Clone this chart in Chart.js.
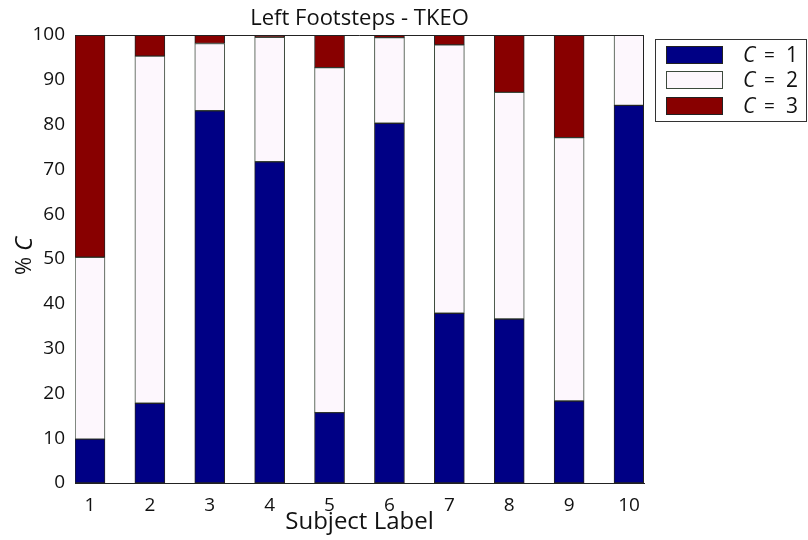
<!DOCTYPE html>
<html>
<head>
<meta charset="utf-8">
<script src="https://cdn.jsdelivr.net/npm/chart.js@4/dist/chart.umd.min.js"></script>
<style>
  html, body { margin: 0; padding: 0; background: #fff; }
  #wrap { width: 808px; height: 540px; }
</style>
</head>
<body>
<div id="wrap"><canvas id="myChart" width="808" height="540"></canvas></div>
<script>
//Chart values.
const subjects = [1, 2, 3, 4, 5, 6, 7, 8, 9, 10];
const c1Values = [9.8, 17.8, 83.1, 71.7, 15.7, 80.3, 37.9, 36.6, 18.3, 84.3];
const c2Values = [40.6, 77.5, 15.0, 27.8, 77.0, 19.1, 59.9, 50.6, 58.8, 15.7];
const c3Values = [49.6, 4.7, 1.9, 0.5, 7.3, 0.6, 2.2, 12.8, 22.9, 0];
const yTicks = [0, 10, 20, 30, 40, 50, 60, 70, 80, 90, 100];
const legendNumbers = ["1", "2", "3"];
const chartTitle = "Left Footsteps - TKEO";

const FONT = "'Open Sans', 'DejaVu Sans', sans-serif";

function toPoints(values) {
  return subjects.map((s, i) => ({ x: s, y: values[i] }));
}

//Draws the title over the plot, the box edges, the y title with an italic C, and the boxed legend.
const extras = {
  id: "extras",
  afterDraw(chart) {
    const ctx = chart.ctx;
    const a = chart.chartArea;
    ctx.save();

    //Title, centred over the plot box.
    ctx.fillStyle = "#111";
    ctx.textAlign = "center";
    ctx.textBaseline = "middle";
    ctx.font = "22px " + FONT;
    ctx.fillText(chartTitle, (a.left + a.right) / 2, 19);

    //Top and right edges of the plot box.
    ctx.strokeStyle = "#222";
    ctx.lineWidth = 1;
    ctx.beginPath();
    ctx.moveTo(a.left, a.top + 0.5);
    ctx.lineTo(a.right - 0.5, a.top + 0.5);
    ctx.lineTo(a.right - 0.5, a.bottom);
    ctx.stroke();

    //Y axis title "% C".
    ctx.translate(25, 256);
    ctx.rotate(-Math.PI / 2);
    ctx.textAlign = "left";
    ctx.font = "22px " + FONT;
    const pct = "% ";
    const w1 = ctx.measureText(pct).width;
    ctx.font = "italic 24px " + FONT;
    const w2 = ctx.measureText("C").width;
    let x0 = -(w1 + w2) / 2;
    ctx.font = "22px " + FONT;
    ctx.fillText(pct, x0, 0);
    ctx.font = "italic 24px " + FONT;
    ctx.fillText("C", x0 + w1, 0);
    ctx.setTransform(1, 0, 0, 1, 0, 0);

    //Legend box.
    ctx.strokeStyle = "#333";
    ctx.strokeRect(655.5, 39.5, 151, 82);
    const rows = [55, 80, 106];
    chart.data.datasets.forEach((ds, i) => {
      const cy = rows[i];
      ctx.fillStyle = ds.backgroundColor;
      ctx.fillRect(666, cy - 9, 57, 18);
      ctx.strokeStyle = ds.borderColor;
      ctx.strokeRect(666.5, cy - 8.5, 56, 17);
      ctx.fillStyle = "#111";
      ctx.textBaseline = "middle";
      ctx.textAlign = "left";
      ctx.font = "italic 21px " + FONT;
      ctx.fillText("C", 743, cy + 1);
      ctx.font = "19px " + FONT;
      ctx.fillText("=", 764, cy + 1);
      ctx.font = "21px " + FONT;
      ctx.fillText(legendNumbers[i], 786, cy + 1);
    });
    ctx.restore();
  }
};

const ctx = document.getElementById("myChart").getContext("2d");

new Chart(ctx, {
  type: "bar",
  data: {
    datasets: [
      {
        label: "C = 1",
        data: toPoints(c1Values),
        backgroundColor: "#000085",
        borderColor: "#222",
        borderWidth: 1,
        borderSkipped: false,
        barThickness: 30
      },
      {
        label: "C = 2",
        data: toPoints(c2Values),
        backgroundColor: "#fdf7fd",
        borderColor: "#3c4a3c",
        borderWidth: 1,
        borderSkipped: false,
        barThickness: 30
      },
      {
        label: "C = 3",
        data: toPoints(c3Values),
        backgroundColor: "#880000",
        borderColor: "#222",
        borderWidth: 1,
        borderSkipped: false,
        barThickness: 30
      }
    ]
  },
  options: {
    responsive: false,
    animation: false,
    devicePixelRatio: 1,
    layout: { padding: { left: 0, right: 164, top: 35, bottom: 0 } },
    plugins: {
      legend: { display: false },
      tooltip: { enabled: false },
      title: { display: false }
    },
    scales: {
      x: {
        type: "linear",
        stacked: true,
        offset: false,
        min: 0.75,
        max: 10.25,
        afterBuildTicks: scale => {
          scale.ticks = subjects.map(v => ({ value: v }));
        },
        afterFit: scale => {
          scale.height = 57;
        },
        grid: { display: false, drawTicks: false, offset: false },
        border: { display: true, color: "#222", width: 1 },
        ticks: {
          color: "#111",
          padding: 11,
          maxRotation: 0,
          autoSkip: false,
          font: { family: FONT, size: 19 }
        },
        title: {
          display: true,
          text: "Subject Label",
          color: "#111",
          font: { family: FONT, size: 24 },
          padding: { top: 0, bottom: 3 }
        }
      },
      y: {
        stacked: true,
        min: 0,
        max: 100,
        afterBuildTicks: scale => {
          scale.ticks = yTicks.map(v => ({ value: v }));
        },
        afterFit: scale => {
          scale.width = 75;
        },
        grid: { display: false, drawTicks: false },
        border: { display: true, color: "#222", width: 1 },
        ticks: {
          color: "#111",
          padding: 10,
          font: { family: FONT, size: 19 }
        }
      }
    }
  },
  plugins: [extras]
});
</script>
</body>
</html>
